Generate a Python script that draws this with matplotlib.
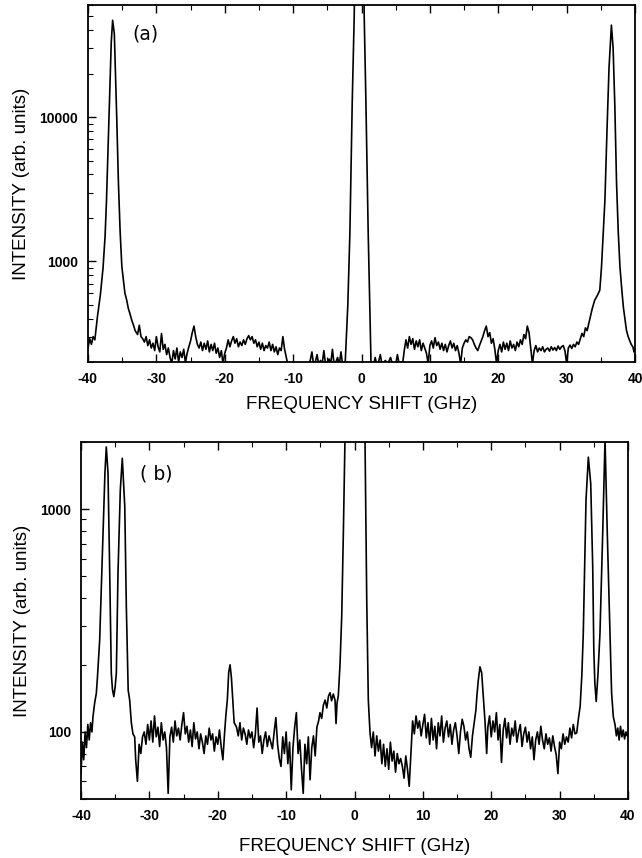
import matplotlib
matplotlib.use("Agg")
import matplotlib.pyplot as plt
from matplotlib.ticker import LogLocator, FuncFormatter, NullFormatter, MultipleLocator

plt.rcParams['font.family'] = ['Liberation Sans', 'DejaVu Sans']
plt.rcParams['axes.unicode_minus'] = False

# ---- panel (a): frequency shift (GHz) / intensity (arb. units) ----
freq_a = [
    -40.0, -39.75, -39.5, -39.25, -39.0,
    -38.6, -38.2, -37.8, -37.5, -37.3, -37.05, -36.8, -36.6, -36.4, -36.15,
    -35.95, -35.8, -35.55, -35.3, -35.05, -34.8, -34.6, -34.35, -34.1, -33.85,
    -33.6, -33.35, -33.1,
    -32.75, -32.5, -32.25, -32.0, -31.75, -31.5, -31.25, -31.0,
    -30.75, -30.5, -30.25, -30.0, -29.75, -29.5, -29.25, -29.0,
    -28.75, -28.5, -28.25, -28.0, -27.75, -27.5, -27.25, -27.0,
    -26.75, -26.5, -26.25, -26.0, -25.75, -25.5, -25.25, -25.0,
    -24.75, -24.5, -24.25, -24.0, -23.75, -23.5, -23.25, -23.0,
    -22.75, -22.5, -22.25, -22.0, -21.75, -21.5, -21.25, -21.0,
    -20.75, -20.5, -20.25, -20.0, -19.75, -19.5, -19.25, -19.0,
    -18.75, -18.5, -18.25, -18.0, -17.75, -17.5, -17.25, -17.0,
    -16.75, -16.5, -16.25, -16.0, -15.75, -15.5, -15.25, -15.0,
    -14.75, -14.5, -14.25, -14.0, -13.75, -13.5, -13.25, -13.0,
    -12.75, -12.5, -12.25, -12.0, -11.75, -11.5, -11.25, -11.0,
    -10.75, -10.25, -9.75, -9.25, -8.75, -8.25, -7.75, -7.5, -7.25, -7.0,
    -6.75, -6.5, -6.25, -6.0, -5.75, -5.5, -5.25, -5.0, -4.75, -4.5,
    -4.25, -4.0, -3.75, -3.5, -3.25, -3.0, -2.75,
    -2.4, -2.0, -1.7, -1.35, -1.07, -0.85, -0.3, 0.15, 0.4, 0.64, 0.98, 1.2, 1.4,
    1.75, 2.0, 2.25, 2.5, 2.75, 3.0, 3.5, 3.75, 4.25, 4.5, 5.0, 5.25, 5.5, 5.75, 6.0,
    6.25, 6.5, 6.75, 7.0, 7.25, 7.5, 7.75, 8.0,
    8.25, 8.5, 8.75, 9.0, 9.25, 9.5, 9.75, 10.0,
    10.25, 10.5, 10.75, 11.0, 11.25, 11.5, 11.75, 12.0,
    12.25, 12.5, 12.75, 13.0, 13.25, 13.5, 13.75, 14.0,
    14.25, 14.5, 14.75, 15.0, 15.25, 15.5, 15.75, 16.0,
    16.25, 16.5, 16.75, 17.0, 17.25, 17.5, 17.75, 18.0,
    18.25, 18.5, 18.75, 19.0, 19.25, 19.5, 19.75, 20.0,
    20.25, 20.5, 20.75, 21.0, 21.25, 21.5, 21.75, 22.0,
    22.25, 22.5, 22.75, 23.0, 23.25, 23.5, 23.75, 24.0,
    24.25, 24.5, 24.75, 25.0, 25.25, 25.5, 25.75, 26.0,
    26.25, 26.5, 26.75, 27.0, 27.25, 27.5, 27.75, 28.0,
    28.25, 28.5, 28.75, 29.0, 29.25, 29.5, 29.75, 30.0,
    30.25, 30.5, 30.75, 31.0, 31.25, 31.5,
    31.75, 32.0, 32.25, 32.5, 32.75, 33.0, 33.25, 33.5, 33.75, 34.1, 34.5,
    34.85, 35.1, 35.35, 35.6, 35.9, 36.2, 36.55, 36.8, 37.05, 37.3, 37.55,
    37.8, 38.05, 38.3, 38.55, 38.75, 39.0, 39.2, 39.45, 39.7, 39.85, 40.0,
]
intensity_a = [
    250, 290, 265, 300, 285,
    420, 580, 900, 1500, 2600, 6500, 17000, 33000, 47000, 38000,
    18000, 10000, 3500, 1600, 920, 720, 600, 540, 470, 430,
    390, 360, 330,
    310, 360, 300, 290, 275, 300, 260, 285,
    250, 270, 240, 300, 255, 235, 315, 245,
    265, 225, 250, 215, 195, 240, 210, 250,
    200, 235, 215, 245, 198, 230, 255, 280,
    320, 355, 300, 265, 250, 275, 240, 270,
    245, 280, 235, 265, 240, 270, 230, 250,
    215, 240, 195, 230, 250, 285, 255, 280,
    300, 270, 290, 255, 275, 260, 285, 265,
    290, 305, 285, 300, 270, 285, 255, 275,
    245, 270, 240, 260, 250, 275, 240, 265,
    235, 255, 225, 250, 240, 300, 245, 215,
    190, 188, 192, 186, 190, 188, 195, 205, 235, 190,
    200, 225, 192, 205, 195, 240, 190, 200, 210, 195,
    245, 190, 200, 215, 192, 235, 190,
    190, 500, 1565, 13100, 49000, 300000, 250000, 300000, 49000, 13100, 1565, 500, 190,
    188, 215, 190, 200, 225, 192, 205, 190, 215, 195, 190, 225, 195, 200, 192,
    240, 285, 250, 300, 265, 290, 245, 280,
    255, 285, 240, 270, 250, 230, 195, 260,
    280, 250, 295, 260, 275, 245, 270, 240,
    265, 235, 260, 280, 250, 270, 240, 260,
    230, 195, 250, 270, 285, 275, 300, 295,
    285, 265, 250, 240, 260, 280, 300, 330,
    355, 300, 320, 270, 290, 245, 195, 240,
    265, 235, 275, 245, 270, 240, 280, 250,
    265, 240, 275, 255, 285, 265, 310, 290,
    355, 320, 250, 195, 240, 260, 235, 250,
    240, 255, 235, 245, 250, 238, 255, 242,
    252, 240, 258, 245, 255, 260, 240, 195,
    250, 262, 248, 265, 255, 275,
    265, 290, 316, 300, 345, 330, 372, 420, 470, 536, 580,
    630, 913, 1565, 2650, 8000, 22000, 43500, 30000, 12000, 3500, 1600,
    913, 650, 480, 390, 332, 300, 283, 265, 254, 235, 245,
]

# ---- panel (b) ----
freq_b = [
    -40.0, -39.8, -39.6, -39.4, -39.2, -39.0, -38.8, -38.6, -38.4, -38.25,
    -38.0, -37.76, -37.6, -37.27, -37.05, -36.8, -36.5, -36.3, -36.05, -35.8,
    -35.57, -35.4, -35.2, -35.0, -34.83, -34.59, -34.25, -33.96, -33.6, -33.37,
    -33.1, -32.88, -32.64, -32.4, -32.15,
    -32.0, -31.75, -31.5, -31.25, -31.0,
    -30.75, -30.5, -30.25, -30.0, -29.75,
    -29.5, -29.25, -29.0, -28.75, -28.5,
    -28.25, -28.0, -27.75, -27.5, -27.25,
    -27.0, -26.75, -26.5, -26.25, -26.0,
    -25.75, -25.5, -25.25, -25.0, -24.75,
    -24.5, -24.25, -24.0, -23.75, -23.5,
    -23.25, -23.0, -22.75, -22.5, -22.25,
    -22.0, -21.75, -21.5, -21.25, -21.0,
    -20.75, -20.5, -20.25, -20.0, -19.75,
    -19.5, -19.25, -19.0,
    -18.8, -18.6, -18.4, -18.2, -18.0, -17.8, -17.6,
    -17.25, -17.0, -16.75, -16.5, -16.25,
    -16.0, -15.75, -15.5, -15.25, -15.0,
    -14.75, -14.5, -14.25, -14.0, -13.75,
    -13.5, -13.25, -13.0, -12.75, -12.5,
    -12.25, -12.0, -11.75, -11.5, -11.25,
    -11.0, -10.75, -10.5, -10.25, -10.0,
    -9.75, -9.5, -9.25, -9.0, -8.75,
    -8.5, -8.25, -8.0, -7.75, -7.5,
    -7.25, -7.0, -6.75, -6.5, -6.25,
    -6.0, -5.75, -5.5,
    -5.25, -5.05, -4.8, -4.55, -4.3, -4.05, -3.8, -3.58, -3.35, -3.1,
    -2.85, -2.7, -2.55, -2.37, -2.12, -1.87, -1.63, -1.4, -1.1, -0.6,
    0.6, 1.2, 1.54, 1.79, 2.02, 2.27,
    2.5, 2.75, 3.0, 3.25, 3.5,
    3.75, 4.0, 4.25, 4.5, 4.75,
    5.0, 5.25, 5.5, 5.75, 6.0,
    6.25, 6.5, 6.75, 7.0, 7.25,
    7.5, 7.75, 8.0, 8.25, 8.5,
    8.75, 9.0, 9.25, 9.5, 9.75,
    10.0, 10.25, 10.5, 10.75, 11.0,
    11.25, 11.5, 11.75, 12.0, 12.25,
    12.5, 12.75, 13.0, 13.25, 13.5,
    13.75, 14.0, 14.25, 14.5, 14.75,
    15.0, 15.25, 15.5, 15.75, 16.0,
    16.25, 16.5, 16.75, 17.0, 17.25,
    17.5, 17.75,
    17.9, 18.1, 18.35, 18.6, 18.8, 18.94, 19.1, 19.33,
    19.5, 19.75, 20.0, 20.25, 20.5,
    20.75, 21.0, 21.25, 21.5, 21.75,
    22.0, 22.25, 22.5, 22.75, 23.0,
    23.25, 23.5, 23.75, 24.0, 24.25,
    24.5, 24.75, 25.0, 25.25, 25.5,
    25.75, 26.0, 26.25, 26.5, 26.75,
    27.0, 27.25, 27.5, 27.75, 28.0,
    28.25, 28.5, 28.75, 29.0, 29.25,
    29.5, 29.75, 30.0, 30.25, 30.5,
    30.75, 31.0, 31.25, 31.5, 31.75,
    32.0, 32.25, 32.5,
    32.75, 33.0, 33.25, 33.46, 33.86, 34.2, 34.55, 34.84, 35.0, 35.15,
    35.35, 35.6, 35.9, 36.3, 36.64, 36.97, 37.37, 37.6, 37.85, 38.1,
    38.3, 38.5, 38.7, 38.9, 39.1, 39.3, 39.5, 39.7, 39.9, 40.0,
]
intensity_b = [
    65, 90, 75, 100, 85, 108, 92, 110, 100, 117,
    135, 149, 175, 258, 420, 726, 1450, 1900, 1450, 516,
    184, 155, 144, 160, 184, 516, 1220, 1690, 1030, 365,
    154, 139, 110, 98, 95,
    75, 60, 88, 80, 95,
    100, 88, 108, 92, 112,
    90, 118, 95, 105, 86,
    110, 92, 100, 85, 53,
    95, 105, 90, 112, 96,
    104, 92, 108, 122, 98,
    106, 90, 102, 86, 110,
    93, 100, 84, 98, 90,
    80, 96, 88, 104, 92,
    98, 82, 95, 88, 102,
    86, 75, 99,
    120, 139, 185, 200, 175, 139, 110,
    105, 96, 110, 92, 104,
    98, 88, 102, 94, 100,
    85, 98, 128, 90, 96,
    80, 92, 100, 86, 96,
    90, 84, 100, 116, 88,
    76, 70, 95, 80, 100,
    72, 90, 55, 85, 105,
    122, 80, 92, 68, 53,
    88, 72, 95, 61, 85,
    96, 78, 105,
    112, 122, 115, 132, 139, 128, 145, 150, 138, 148,
    139, 109, 135, 145, 200, 330, 780, 2000, 8000, 50000,
    50000, 8000, 2000, 390, 139, 99,
    85, 100, 78, 96, 82,
    92, 72, 88, 70, 84,
    68, 90, 74, 82, 66,
    80, 72, 76, 70, 62,
    78, 68, 57, 80, 112,
    98, 118, 104, 112, 96,
    108, 120, 94, 110, 88,
    115, 92, 106, 84, 110,
    96, 118, 90, 104, 112,
    95, 108, 88, 102, 110,
    96, 80, 100, 114, 106,
    92, 100, 84, 77, 96,
    110, 125,
    145, 170, 196, 184, 150, 130, 110, 80,
    105, 118, 95, 112, 100,
    122, 92, 108, 73, 102,
    115, 94, 110, 88, 104,
    96, 112, 90, 100, 108,
    86, 98, 105, 90, 100,
    84, 95, 75, 92, 100,
    88, 106, 92, 84, 98,
    88, 94, 82, 96, 86,
    79, 65, 90, 84, 98,
    88, 95, 90, 104, 94,
    108, 98, 99,
    115, 130, 180, 277, 1100, 1710, 1300, 550, 233, 166,
    137, 180, 277, 780, 2050, 780, 277, 150, 117, 108,
    96, 104, 92, 106, 95, 102, 93, 100, 96, 98,
]

x_ticks = [-40, -30, -20, -10, 0, 10, 20, 30, 40]

fig = plt.figure(figsize=(6.42, 8.58), dpi=100)
ax_a = fig.add_axes([88 / 642, 1 - 362 / 858, 547 / 642, 357 / 858])
ax_b = fig.add_axes([81 / 642, 1 - 799 / 858, 547 / 642, 357 / 858])

panels = [
    (ax_a, freq_a, intensity_a, (200, 60000), "(a)", (0.081, 0.92), -0.106, -0.095),
    (ax_b, freq_b, intensity_b, (50, 2000), "( b)", (0.108, 0.91), -0.091, -0.108),
]

for ax, fx, iy, ylim, tag, tagpos, ylab_x, xlab_y in panels:
    ax.plot(fx, iy, color="black", lw=1.2)
    ax.set_yscale("log")
    ax.set_xlim(-40, 40)
    ax.set_ylim(*ylim)
    ax.set_xticks(x_ticks)
    ax.xaxis.set_minor_locator(MultipleLocator(5))
    ax.yaxis.set_major_locator(LogLocator(base=10))
    ax.yaxis.set_major_formatter(FuncFormatter(lambda v, p: "%d" % v))
    ax.yaxis.set_minor_locator(LogLocator(base=10, subs=range(2, 10)))
    ax.yaxis.set_minor_formatter(NullFormatter())
    ax.tick_params(which="both", direction="in", top=True, right=False)
    ax.tick_params(which="major", length=6, width=1.0, labelsize=10, pad=7)
    ax.tick_params(which="minor", length=3.5, width=0.8)
    for lab in ax.get_xticklabels() + ax.get_yticklabels():
        lab.set_fontweight("bold")
    for s in ax.spines.values():
        s.set_linewidth(1.3)
    ax.set_ylabel("INTENSITY (arb. units)", fontsize=13.5)
    ax.yaxis.set_label_coords(ylab_x, 0.5)
    ax.set_xlabel("FREQUENCY SHIFT (GHz)", fontsize=13.5)
    ax.xaxis.set_label_coords(0.5, xlab_y)
    ax.text(tagpos[0], tagpos[1], tag, transform=ax.transAxes, fontsize=13.5,
            family="DejaVu Sans", va="center", ha="left")

fig.savefig("out.png", dpi=100)
